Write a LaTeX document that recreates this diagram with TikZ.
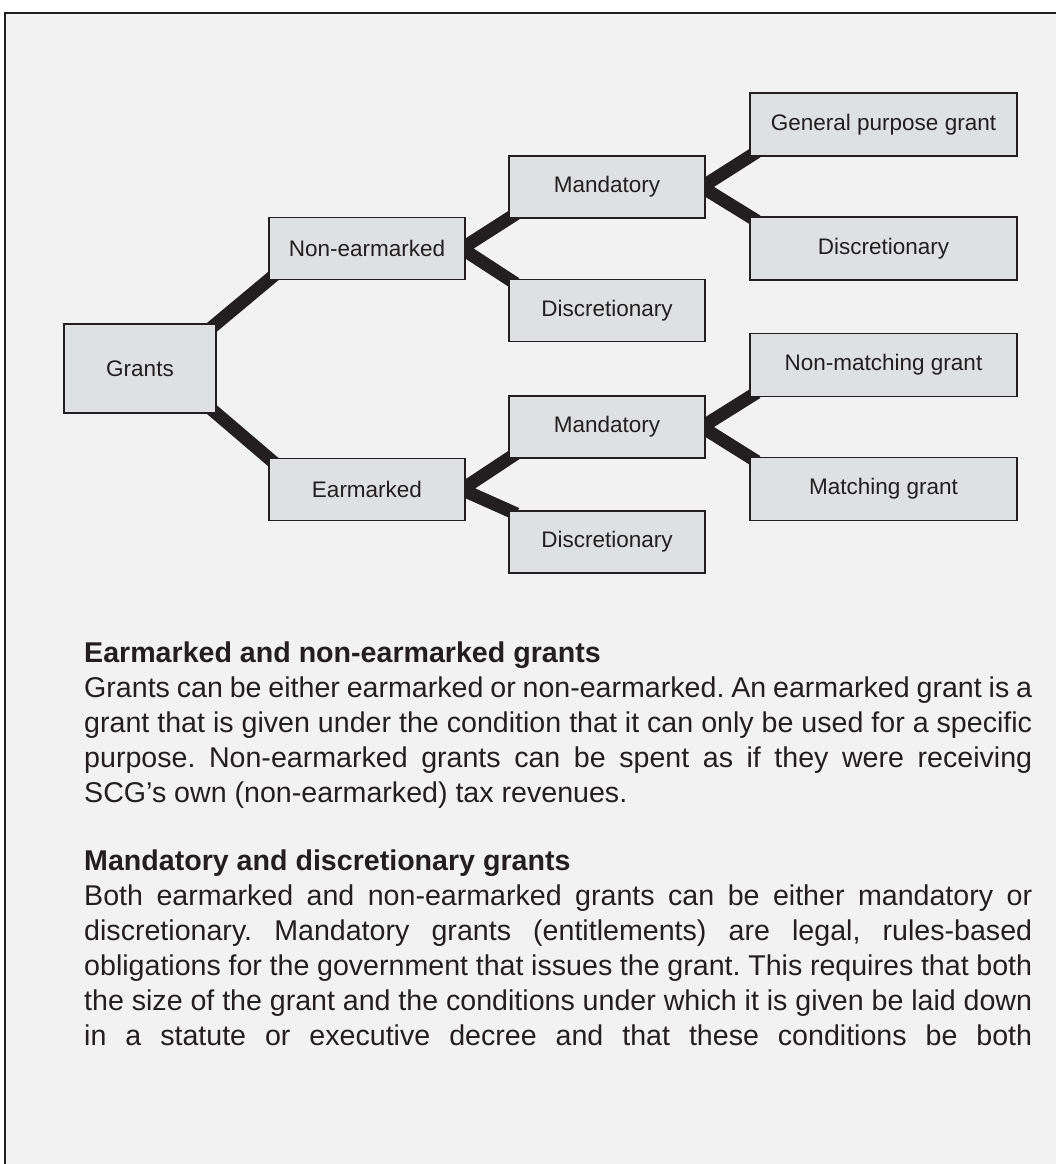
\documentclass[tikz,border=0pt]{standalone}
\usepackage{fontspec}
\setmainfont{Liberation Sans}
\usetikzlibrary{backgrounds,calc}
\definecolor{inkdark}{RGB}{35,31,32}
\definecolor{panelgrey}{RGB}{242,242,242}
\definecolor{boxgrey}{RGB}{223,224,225}
\frenchspacing
\tikzset{
  branch/.style={line width=13pt, draw=inkdark, line join=miter,
    shorten <=-9pt, shorten >=-9pt},
  catbox/.style={
    draw=inkdark,
    line width=1.5pt,
    fill=boxgrey,
    minimum width=196pt,
    minimum height=62pt,
    inner sep=0pt,
    text=inkdark,
    font=\fontsize{22.5}{27}\selectfont
  },
  leafbox/.style={catbox, minimum width=267pt, minimum height=63pt},
  bodytext/.style={
    anchor=north west,
    inner sep=0pt,
    text width=948pt,
    align=justify,
    text=inkdark,
    font=\fontsize{28.6}{35}\selectfont
  }
}

\begin{document}
\begin{tikzpicture}[x=1pt,y=-1pt]
  \useasboundingbox (0,0) rectangle (1056,1164);

  % tree
  \node[catbox,minimum width=152pt,minimum height=89pt] (grants) at (140,368.5) {Grants};
  \node[catbox] (nonear) at (367,248.5) {Non-earmarked};
  \node[catbox] (earm) at (367,489.5) {Earmarked};
  \node[catbox] (mandtop) at (607,187) {Mandatory};
  \node[catbox] (disctop) at (607,310.5) {Discretionary};
  \node[catbox] (mandbot) at (607,427) {Mandatory};
  \node[catbox] (discbot) at (607,542) {Discretionary};
  \node[leafbox] (general) at (883.5,124.5) {General purpose grant};
  \node[leafbox] (discleaf) at (883.5,248.5) {Discretionary};
  \node[leafbox] (nonmatch) at (883.5,365) {Non-matching grant};
  \node[leafbox] (match) at (883.5,489) {Matching grant};

  % text
  \node[bodytext] (parone) at (84,642) {\textbf{Earmarked and non-earmarked grants}\par
    Grants can be either earmarked or non-earmarked. An earmarked grant is a\linebreak
    grant that is given under the condition that it can only be used for a specific\linebreak
    purpose. Non-earmarked grants can be spent as if they were receiving\linebreak
    SCG’s own (non-earmarked) tax revenues.};
  \node[bodytext] (partwo) at (84,850) {\textbf{Mandatory and discretionary grants}\par
    Both earmarked and non-earmarked grants can be either mandatory or\linebreak
    discretionary. Mandatory grants (entitlements) are legal, rules-based\linebreak
    obligations for the government that issues the grant. This requires that both\linebreak
    the size of the grant and the conditions under which it is given be laid down\linebreak
    in a statute or executive decree and that these conditions be both{\parfillskip=0pt\par}};

  \begin{scope}[on background layer]
    \clip (0,0) rectangle (1056,1164);
    \fill[panelgrey] (5,13) rectangle (1070,1180);
    \draw[inkdark,line width=2.5pt] (5,1180) -- (5,13) -- (1070,13);
    \draw[branch] (grants.north east) -- (nonear.south west);
    \draw[branch] (grants.south east) -- (earm.north west);
    \foreach \a/\b/\c in {mandtop/nonear/disctop,mandbot/earm/discbot,general/mandtop/discleaf,nonmatch/mandbot/match}
      \draw[branch] (\a.south west) -- ($(\b.east)+(-4,0)$) -- (\c.north west);
  \end{scope}
\end{tikzpicture}
\end{document}
